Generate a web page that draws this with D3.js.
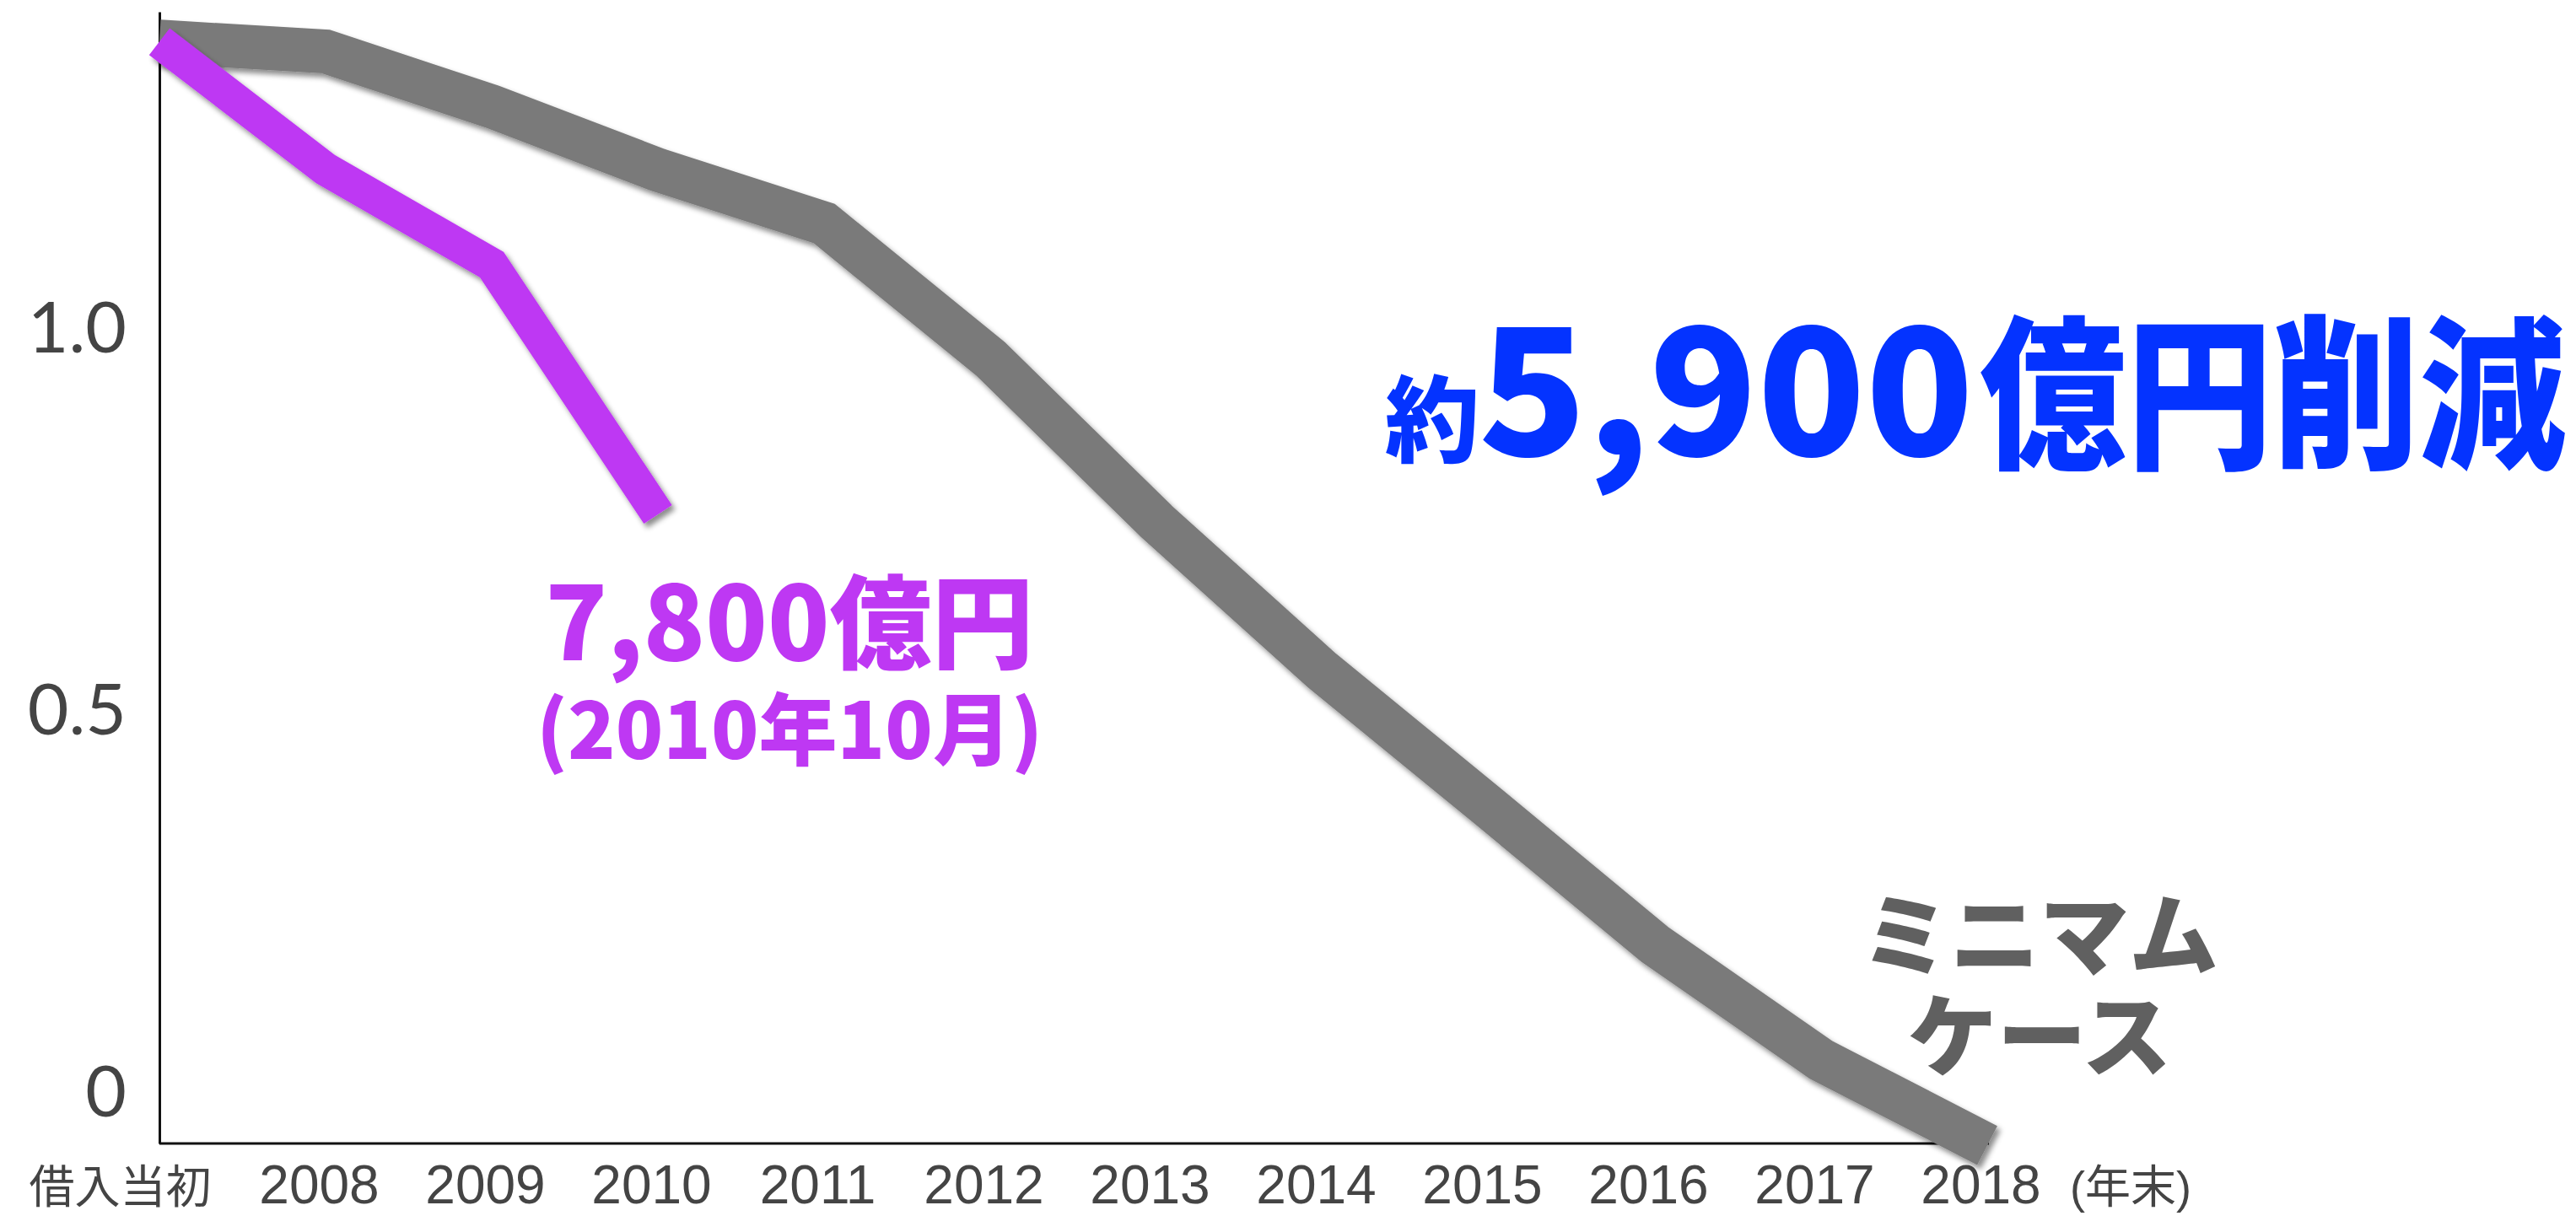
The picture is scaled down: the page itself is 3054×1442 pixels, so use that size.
<!DOCTYPE html>
<html>
<head>
<meta charset="utf-8">
<script src="https://cdn.jsdelivr.net/npm/d3@7"></script>
<style>
  html, body { margin: 0; padding: 0; background: #ffffff; }
  svg { display: block; }
</style>
</head>
<body>
<svg id="chart" width="3054" height="1442"></svg>
<script>
// ---- data ----
const categories = ["借入当初", "2008", "2009", "2010", "2011", "2012", "2013", "2014", "2015", "2016", "2017", "2018"];
const minimumCase = [1.373, 1.360, 1.288, 1.205, 1.135, 0.958, 0.745, 0.549, 0.371, 0.191, 0.040, -0.072];
const actualPath = [1.373, 1.206, 1.081, 0.754];
const yTickValues = [0, 0.5, 1.0];
const yTickLabels = ["0", "0.5", "1.0"];
const xUnitLabel = "(年末)";
const mainNote = ["約", "5,900", "億円削減"];
const actualNote = ["7,800億円", "(2010年10月)"];
const seriesNote = ["ミニマム", "ケース"];

// ---- layout ----
const svg = d3.select("#chart");
const x = d3.scalePoint().domain(categories).range([189, 2356]);
const y = d3.scaleLinear().domain([-0.0695, 1.412]).range([1356, 14]);

const defs = svg.append("defs");
const f = defs.append("filter").attr("id", "shadow")
  .attr("x", "-10%").attr("y", "-10%").attr("width", "120%").attr("height", "120%");
f.append("feDropShadow").attr("dx", 4).attr("dy", 5).attr("stdDeviation", 3)
  .attr("flood-color", "#000").attr("flood-opacity", 0.45);

// axes
const yAxis = d3.axisLeft(y).tickValues(yTickValues)
  .tickFormat((d, i) => yTickLabels[i]).tickSize(0).tickSizeOuter(0).tickPadding(39);
const gy = svg.append("g").attr("transform", "translate(189,0)").call(yAxis);
gy.select(".domain").attr("stroke", "#111").attr("stroke-width", 3);
gy.selectAll("text")
  .attr("font-family", "Lato, 'Noto Sans', sans-serif")
  .attr("font-size", 84).attr("fill", "#444").attr("dy", "0.36em");

const xAxis = d3.axisBottom(x).tickSize(0).tickSizeOuter(0);
const gx = svg.append("g").attr("transform", "translate(0,1356)").call(xAxis);
gx.select(".domain").attr("stroke", "#111").attr("stroke-width", 3)
  .attr("d", `M${x.range()[0]},0H${x.range()[1] + 2}`);
gx.selectAll("text")
  .attr("y", 71).attr("dy", 0)
  .attr("dx", (d, i) => i === 0 ? -47 : -8)
  .attr("font-family", "'Liberation Sans', Arial, 'Noto Sans CJK JP', sans-serif")
  .attr("font-size", (d, i) => i === 0 ? 54 : 64)
  .attr("fill", "#444");

svg.append("text")
  .attr("x", x(categories[categories.length - 1]) + 170).attr("y", 1427)
  .attr("text-anchor", "middle")
  .attr("font-family", "'Liberation Sans', 'Noto Sans CJK JP', sans-serif")
  .attr("font-size", 54).attr("fill", "#444")
  .text(xUnitLabel);

// lines
const line = d3.line().x((d, i) => x(categories[i])).y(d => y(d));

svg.append("path").datum(minimumCase)
  .attr("d", line)
  .attr("fill", "none").attr("stroke", "#7a7a7a").attr("stroke-width", 52)
  .attr("stroke-linejoin", "miter").attr("stroke-linecap", "butt")
  .attr("filter", "url(#shadow)");

svg.append("path").datum(actualPath)
  .attr("d", line)
  .attr("fill", "none").attr("stroke", "#be38f3").attr("stroke-width", 40)
  .attr("stroke-linejoin", "miter").attr("stroke-linecap", "butt")
  .attr("filter", "url(#shadow)");

// annotations
const cjkBold = "'Noto Sans CJK JP', 'Noto Sans', sans-serif";
const blue = "#0433ff";

svg.append("text")
  .attr("x", 1642).attr("y", 540)
  .attr("font-family", cjkBold).attr("font-weight", 900)
  .attr("font-size", 112).attr("fill", blue)
  .text(mainNote[0]);
svg.append("text")
  .attr("x", 1753).attr("y", 540)
  .attr("font-family", cjkBold).attr("font-weight", 900)
  .attr("font-size", 210).attr("fill", blue)
  .attr("textLength", 587).attr("lengthAdjust", "spacingAndGlyphs")
  .text(mainNote[1]);
svg.append("text")
  .attr("x", 2347).attr("y", 540)
  .attr("font-family", cjkBold).attr("font-weight", 900)
  .attr("font-size", 196).attr("fill", blue)
  .attr("textLength", 695).attr("lengthAdjust", "spacingAndGlyphs")
  .text(mainNote[2]);

svg.append("text")
  .attr("x", 936).attr("y", 783).attr("text-anchor", "middle")
  .attr("font-family", cjkBold).attr("font-weight", 900)
  .attr("font-size", 121).attr("fill", "#be38f3")
  .text(actualNote[0]);
svg.append("text")
  .attr("x", 936).attr("y", 900).attr("text-anchor", "middle")
  .attr("font-family", cjkBold).attr("font-weight", 900)
  .attr("font-size", 93).attr("fill", "#be38f3")
  .text(actualNote[1]);

seriesNote.forEach((s, i) => {
  svg.append("text")
    .attr("x", 2418).attr("y", 1148 + i * 120).attr("text-anchor", "middle")
    .attr("font-family", cjkBold).attr("font-weight", 900)
    .attr("font-size", 106).attr("fill", "#606060")
    .text(s);
});
</script>
</body>
</html>
